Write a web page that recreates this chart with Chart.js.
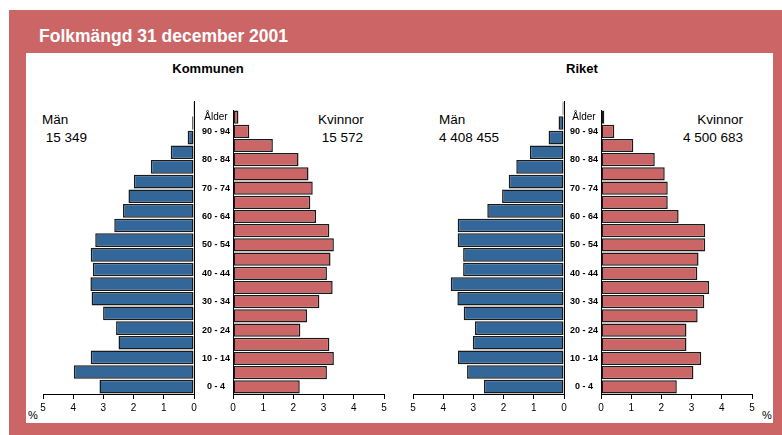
<!DOCTYPE html>
<html>
<head>
<meta charset="utf-8">
<script src="https://cdn.jsdelivr.net/npm/chart.js@4/dist/chart.umd.min.js"></script>
<style>
    body { margin: 0; background: #fff; width: 782px; height: 435px; overflow: hidden; position: relative; font-family: "Liberation Sans", Arial, sans-serif; }
    #frame { position: absolute; left: 9px; top: 10px; width: 790px; height: 440px; background: #cc6666; }
    #inner { position: absolute; left: 26px; top: 53px; width: 747px; height: 370px; background: #fff; }
    #title { position: absolute; left: 39px; top: 26px; color: #fff; font-weight: bold; font-size: 17.5px; }
    .head { position: absolute; top: 61px; font-weight: bold; font-size: 13px; color: #000; transform: translateX(-50%); }
    .txt { position: absolute; font-size: 13.5px; color: #000; line-height: 18px; }
    .pct { position: absolute; font-size: 11px; top: 409px; color: #000; }
    canvas { position: absolute; }
</style>
</head>
<body>
<div id="frame"></div>
<div id="inner"></div>
<div id="title">Folkmängd 31 december 2001</div>

<div class="head" style="left:208px">Kommunen</div>
<div class="head" style="left:582px">Riket</div>

<div class="txt" style="left:42px; top:111px">Män<br>&nbsp;15 349</div>
<div class="txt" style="left:318px; top:111px">Kvinnor<br>&nbsp;15 572</div>
<div class="txt" style="left:439px; top:111px">Män<br>4 408 455</div>
<div class="txt" style="right:39px; top:111px; text-align:right">Kvinnor<br>4 500 683</div>

<div class="pct" style="left:28px">%</div>
<div class="pct" style="left:762px">%</div>

<canvas id="komMen" width="166" height="317" style="left:33px; top:101px"></canvas>
<canvas id="komWomen" width="200" height="317" style="left:194px; top:101px"></canvas>
<canvas id="rikMen" width="166" height="317" style="left:403px; top:101px"></canvas>
<canvas id="rikWomen" width="200" height="317" style="left:562px; top:101px"></canvas>

<script>
// Åldersgrupper, yngst först
const ages = ['0 - 4', '5 - 9', '10 - 14', '15 - 19', '20 - 24', '25 - 29', '30 - 34', '35 - 39',
    '40 - 44', '45 - 49', '50 - 54', '55 - 59', '60 - 64', '65 - 69', '70 - 74', '75 - 79',
    '80 - 84', '85 - 89', '90 - 94', '95 -'];
const ageHeader = 'Ålder';
const xTicks = [0, 1, 2, 3, 4, 5];

// Andel av befolkningen (%)
const kommunenMen = [3.13, 3.98, 3.42, 2.50, 2.58, 3.01, 3.39, 3.43, 3.35, 3.42,
    3.27, 2.64, 2.35, 2.17, 1.99, 1.43, 0.77, 0.21, 0.06, 0.03];
const kommunenWomen = [2.21, 3.11, 3.34, 3.19, 2.23, 2.45, 2.86, 3.30, 3.11, 3.23,
    3.34, 3.19, 2.75, 2.56, 2.64, 2.50, 2.17, 1.32, 0.54, 0.18];
const riketMen = [2.65, 3.21, 3.51, 3.02, 2.95, 3.32, 3.53, 3.75, 3.34, 3.34,
    3.52, 3.52, 2.54, 2.05, 1.83, 1.58, 1.13, 0.51, 0.18, 0.05];
const riketWomen = [2.51, 3.06, 3.32, 2.83, 2.83, 3.20, 3.42, 3.58, 3.19, 3.23,
    3.45, 3.45, 2.57, 2.21, 2.21, 2.11, 1.78, 1.07, 0.44, 0.11];

const blue = '#336699';
const red = '#cc6666';
const font = '"Liberation Sans", Arial, sans-serif';

function xScale(reverse) {
    return {
        type: 'linear',
        min: 0,
        max: 5,
        reverse: reverse,
        afterBuildTicks: function(scale) {
            scale.ticks = xTicks.map(v => ({ value: v }));
        },
        afterFit: function(scale) { scale.height = 24; },
        grid: { drawOnChartArea: false, drawTicks: true, tickLength: 5, color: '#000', lineWidth: 1 },
        border: { display: true, color: '#000', width: 1 },
        ticks: { color: '#000', padding: 3, maxRotation: 0, font: { family: font, size: 10 } }
    };
}

function makeChart(id, values, color, men) {
    const ctx = document.getElementById(id).getContext('2d');
    let yScale;
    if (men) {
        yScale = {
            type: 'category',
            position: 'right',
            reverse: true,
            afterFit: function(scale) { scale.width = 0; },
            grid: { display: false, drawTicks: false },
            border: { display: true, color: '#000', width: 1 },
            ticks: { display: false }
        };
    } else {
        yScale = {
            type: 'category',
            position: 'left',
            reverse: true,
            afterFit: function(scale) { scale.width = 39; },
            grid: { display: false, drawTicks: false },
            border: { display: true, color: '#000', width: 1 },
            ticks: {
                autoSkip: false,
                crossAlign: 'center',
                padding: 3,
                color: '#000',
                font: function(c) {
                    return c.index === ages.length - 1
                        ? { family: font, size: 10 }
                        : { family: font, size: 9, weight: 'bold' };
                },
                callback: function(value, index) {
                    if (index === ages.length - 1) return ageHeader;
                    return index % 2 === 0 ? ages[index] : '';
                }
            }
        };
    }

    return new Chart(ctx, {
        type: 'bar',
        data: {
            labels: ages,
            datasets: [{
                data: values,
                backgroundColor: color,
                borderColor: '#1a1a1a',
                borderWidth: 1.5,
                borderSkipped: false,
                barPercentage: 0.93,
                categoryPercentage: 1.0
            }]
        },
        options: {
            indexAxis: 'y',
            responsive: false,
            animation: false,
            layout: { padding: men ? { left: 10, right: 5, top: 0, bottom: 0 } : { left: 0, right: 10, top: 0, bottom: 0 } },
            plugins: { legend: { display: false }, tooltip: { enabled: false } },
            scales: { x: xScale(men), y: yScale }
        }
    });
}

makeChart('komMen', kommunenMen, blue, true);
makeChart('komWomen', kommunenWomen, red, false);
makeChart('rikMen', riketMen, blue, true);
makeChart('rikWomen', riketWomen, red, false);
</script>
</body>
</html>
